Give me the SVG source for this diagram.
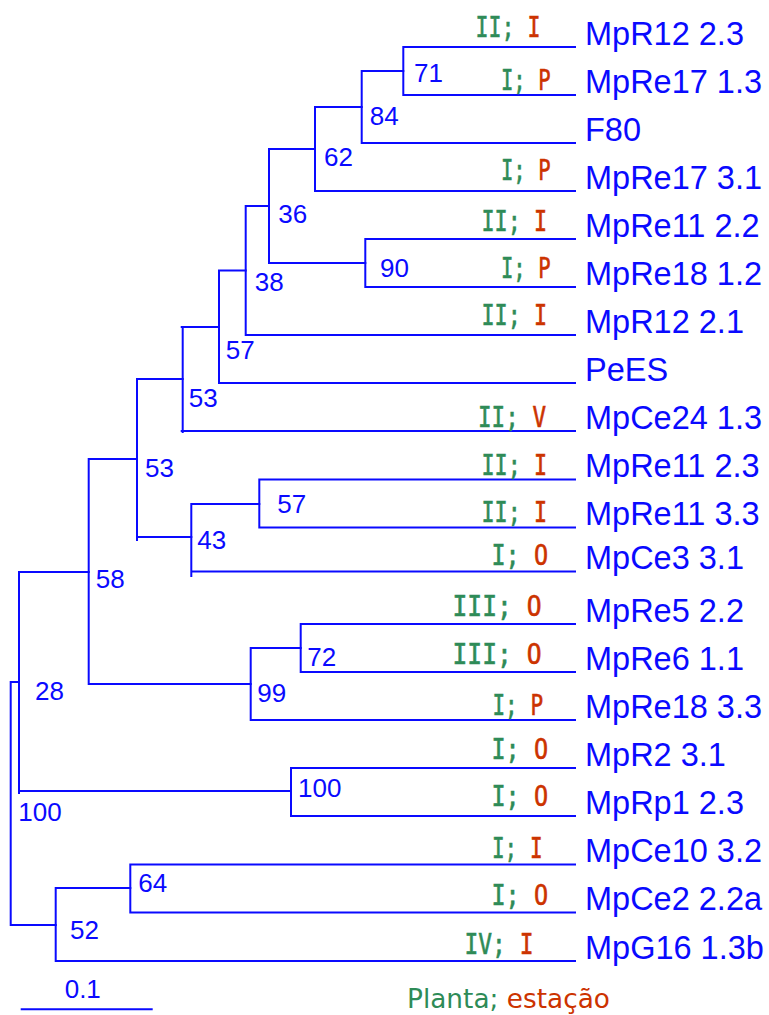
<svg xmlns="http://www.w3.org/2000/svg" width="769" height="1015" viewBox="0 0 769 1015">
<style>
.br{fill:none;stroke:#0a0aff;stroke-width:2;stroke-linecap:square}
.lf{font-family:"Liberation Sans",Arial,sans-serif;font-size:32.5px;fill:#0a0aff}
.bs{font-family:"Liberation Sans",Arial,sans-serif;font-size:26px;fill:#0a0aff}
.an{font-family:"DejaVu Sans Mono",monospace;font-size:28px;stroke-width:0.6}
.g{fill:#2e8b57;stroke:#2e8b57}
.r{fill:#cc3300;stroke:#cc3300}
.lg{font-family:"DejaVu Sans",sans-serif;font-size:27px}
</style>
<rect width="769" height="1015" fill="#fff"/>
<g id="connectors">
<path class="br" d="M575 47H403.3V95H575"/>
<path class="br" d="M403.3 71H361.7V143H575"/>
<path class="br" d="M361.7 107H315V191H575"/>
<path class="br" d="M575 239H365.3V287H575"/>
<path class="br" d="M315 149H269V263H365.3"/>
<path class="br" d="M269 206H245.7V335H575"/>
<path class="br" d="M245.7 270.5H219V383H575"/>
<path class="br" d="M219 327H181.7M182.7 327V432M181.7 431H575"/>
<path class="br" d="M575 479.5H259.3V527.5H575"/>
<path class="br" d="M259.3 504H191.3V576M191.3 571.5H575"/>
<path class="br" d="M182.7 379H137V540M137 537H191.3"/>
<path class="br" d="M575 624H300.7V672H575"/>
<path class="br" d="M300.7 648H250.7V720H575"/>
<path class="br" d="M137 459H88.7V684H250.7"/>
<path class="br" d="M575 768H291V816H575"/>
<path class="br" d="M88.7 572H19V793M19 791H291"/>
<path class="br" d="M575 864.5H130.3V912.5H575"/>
<path class="br" d="M130.3 888H55.7V961H575"/>
<path class="br" d="M19 682H10.7V925H55.7"/>
<path class="br" d="M21.7 1009.3H151.7"/>
</g>
<g id="leaves">
<g id="leaf-MpR12-2.3"><text class="an" x="475.5" y="36.5" textLength="65" lengthAdjust="spacingAndGlyphs"><tspan class="g">II;</tspan> <tspan class="r">I</tspan></text><text class="lf" x="585" y="44.5">MpR12 2.3</text></g>
<g id="leaf-MpRe17-1.3"><text class="an" x="501" y="89.5" textLength="49.5" lengthAdjust="spacingAndGlyphs"><tspan class="g">I;</tspan> <tspan class="r">P</tspan></text><text class="lf" x="585" y="92.5">MpRe17 1.3</text></g>
<g id="leaf-F80"><text class="lf" x="585" y="140.5">F80</text></g>
<g id="leaf-MpRe17-3.1"><text class="an" x="501" y="179.5" textLength="49.5" lengthAdjust="spacingAndGlyphs"><tspan class="g">I;</tspan> <tspan class="r">P</tspan></text><text class="lf" x="585" y="188.5">MpRe17 3.1</text></g>
<g id="leaf-MpRe11-2.2"><text class="an" x="481.5" y="231" textLength="65.5" lengthAdjust="spacingAndGlyphs"><tspan class="g">II;</tspan> <tspan class="r">I</tspan></text><text class="lf" x="585" y="236.5">MpRe11 2.2</text></g>
<g id="leaf-MpRe18-1.2"><text class="an" x="501" y="277.5" textLength="49.5" lengthAdjust="spacingAndGlyphs"><tspan class="g">I;</tspan> <tspan class="r">P</tspan></text><text class="lf" x="585" y="284.5">MpRe18 1.2</text></g>
<g id="leaf-MpR12-2.1"><text class="an" x="481.5" y="324.5" textLength="65.5" lengthAdjust="spacingAndGlyphs"><tspan class="g">II;</tspan> <tspan class="r">I</tspan></text><text class="lf" x="585" y="332.5">MpR12 2.1</text></g>
<g id="leaf-PeES"><text class="lf" x="585" y="380.5">PeES</text></g>
<g id="leaf-MpCe24-1.3"><text class="an" x="478" y="427" textLength="68" lengthAdjust="spacingAndGlyphs"><tspan class="g">II;</tspan> <tspan class="r">V</tspan></text><text class="lf" x="585" y="428.5">MpCe24 1.3</text></g>
<g id="leaf-MpRe11-2.3"><text class="an" x="481.5" y="474.5" textLength="65.5" lengthAdjust="spacingAndGlyphs"><tspan class="g">II;</tspan> <tspan class="r">I</tspan></text><text class="lf" x="585" y="477">MpRe11 2.3</text></g>
<g id="leaf-MpRe11-3.3"><text class="an" x="481.5" y="521.5" textLength="65.5" lengthAdjust="spacingAndGlyphs"><tspan class="g">II;</tspan> <tspan class="r">I</tspan></text><text class="lf" x="585" y="525">MpRe11 3.3</text></g>
<g id="leaf-MpCe3-3.1"><text class="an" x="491.5" y="565" textLength="56.5" lengthAdjust="spacingAndGlyphs"><tspan class="g">I;</tspan> <tspan class="r">O</tspan></text><text class="lf" x="585" y="569">MpCe3 3.1</text></g>
<g id="leaf-MpRe5-2.2"><text class="an" x="452.5" y="616" textLength="89" lengthAdjust="spacingAndGlyphs"><tspan class="g">III;</tspan> <tspan class="r">O</tspan></text><text class="lf" x="585" y="621.5">MpRe5 2.2</text></g>
<g id="leaf-MpRe6-1.1"><text class="an" x="452.5" y="664" textLength="89" lengthAdjust="spacingAndGlyphs"><tspan class="g">III;</tspan> <tspan class="r">O</tspan></text><text class="lf" x="585" y="669.5">MpRe6 1.1</text></g>
<g id="leaf-MpRe18-3.3"><text class="an" x="492.5" y="715" textLength="50.5" lengthAdjust="spacingAndGlyphs"><tspan class="g">I;</tspan> <tspan class="r">P</tspan></text><text class="lf" x="585" y="717.5">MpRe18 3.3</text></g>
<g id="leaf-MpR2-3.1"><text class="an" x="491.5" y="759" textLength="56.5" lengthAdjust="spacingAndGlyphs"><tspan class="g">I;</tspan> <tspan class="r">O</tspan></text><text class="lf" x="585" y="765.5">MpR2 3.1</text></g>
<g id="leaf-MpRp1-2.3"><text class="an" x="491.5" y="806" textLength="56.5" lengthAdjust="spacingAndGlyphs"><tspan class="g">I;</tspan> <tspan class="r">O</tspan></text><text class="lf" x="585" y="813.5">MpRp1 2.3</text></g>
<g id="leaf-MpCe10-3.2"><text class="an" x="492" y="857.5" textLength="50.5" lengthAdjust="spacingAndGlyphs"><tspan class="g">I;</tspan> <tspan class="r">I</tspan></text><text class="lf" x="585" y="862">MpCe10 3.2</text></g>
<g id="leaf-MpCe2-2.2a"><text class="an" x="491.5" y="905" textLength="56.5" lengthAdjust="spacingAndGlyphs"><tspan class="g">I;</tspan> <tspan class="r">O</tspan></text><text class="lf" x="585" y="910">MpCe2 2.2a</text></g>
<g id="leaf-MpG16-1.3b"><text class="an" x="464.5" y="953.5" textLength="69" lengthAdjust="spacingAndGlyphs"><tspan class="g">IV;</tspan> <tspan class="r">I</tspan></text><text class="lf" x="585" y="958.5">MpG16 1.3b</text></g>
</g>
<g id="nodes">
<g id="n71"><text class="bs" x="414" y="81.5">71</text></g>
<g id="n84"><text class="bs" x="369.7" y="125">84</text></g>
<g id="n62"><text class="bs" x="324" y="165.5">62</text></g>
<g id="n36"><text class="bs" x="278.3" y="222.5">36</text></g>
<g id="n90"><text class="bs" x="380" y="276.5">90</text></g>
<g id="n38"><text class="bs" x="254.7" y="291">38</text></g>
<g id="n57a"><text class="bs" x="225.7" y="359.3">57</text></g>
<g id="n53a"><text class="bs" x="188.7" y="406.7">53</text></g>
<g id="n53b"><text class="bs" x="145" y="476.7">53</text></g>
<g id="n57b"><text class="bs" x="277.3" y="513.3">57</text></g>
<g id="n43"><text class="bs" x="197.3" y="548.7">43</text></g>
<g id="n58"><text class="bs" x="95.7" y="588.3">58</text></g>
<g id="n72"><text class="bs" x="307.3" y="665.5">72</text></g>
<g id="n99"><text class="bs" x="257.3" y="701.7">99</text></g>
<g id="n28"><text class="bs" x="35" y="700">28</text></g>
<g id="n100a"><text class="bs" x="298" y="797.3">100</text></g>
<g id="n100b"><text class="bs" x="18.3" y="820.5">100</text></g>
<g id="n64"><text class="bs" x="138.3" y="892.3">64</text></g>
<g id="n52"><text class="bs" x="70" y="939.3">52</text></g>
</g>
<g id="scale"><text class="bs" x="64.7" y="997.7">0.1</text></g>
<g id="legend"><text class="lg" x="407" y="1008" textLength="203" lengthAdjust="spacingAndGlyphs"><tspan class="g" style="stroke:none">Planta;</tspan> <tspan class="r" style="stroke:none">estação</tspan></text></g>
</svg>
